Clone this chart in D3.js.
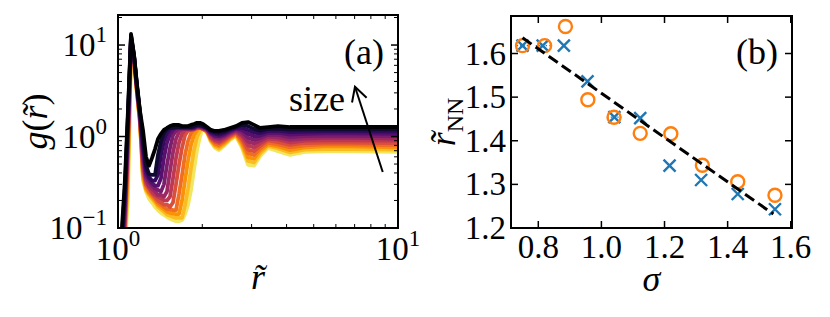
<!DOCTYPE html>
<html>
<head>
<meta charset="utf-8">
<script src="https://cdn.jsdelivr.net/npm/d3@7"></script>
<style>
  body { margin: 0; background: #fff; }
</style>
</head>
<body>
<svg id="chart" width="830" height="317" viewBox="0 0 830 317"></svg>
<script>
// ---- panel (a): g(r) for 12 sizes, darkest = largest ----
const rTilde = [1.000, 1.033, 1.059, 1.086, 1.113, 1.141, 1.169, 1.198, 1.228, 1.259,
  1.290, 1.322, 1.356, 1.389, 1.424, 1.459, 1.496, 1.534, 1.572, 1.611,
  1.651, 1.693, 1.735, 1.778, 1.823, 1.868, 1.915, 1.962, 2.011, 2.079,
  2.148, 2.220, 2.294, 2.391, 2.512, 2.639, 2.773, 2.913, 3.060, 3.215,
  3.433, 3.728, 4.114, 4.655, 5.487, 6.740, 10.0];

const gCurves = [
  [0.01, 0.10, 0.34, 2.0, 13.2, 7.8, 3.7, 1.9, 1.18, 0.60, 0.48, 0.58, 0.73, 0.94, 1.07, 1.18, 1.24, 1.30, 1.34, 1.34, 1.34, 1.30, 1.30, 1.30, 1.34, 1.37, 1.41, 1.41, 1.37, 1.27, 1.18, 1.15, 1.15, 1.18, 1.24, 1.30, 1.41, 1.44, 1.34, 1.24, 1.27, 1.30, 1.27, 1.27, 1.27, 1.27, 1.27],
  [0.01, 0.085, 0.28, 1.8, 12.8, 7.7, 3.6, 1.85, 0.94, 0.48, 0.39, 0.38, 0.38, 0.63, 0.89, 1.09, 1.21, 1.24, 1.24, 1.27, 1.27, 1.27, 1.27, 1.27, 1.27, 1.30, 1.34, 1.34, 1.30, 1.24, 1.15, 1.11, 1.10, 1.13, 1.21, 1.27, 1.34, 1.30, 1.21, 1.16, 1.21, 1.22, 1.19, 1.20, 1.20, 1.20, 1.20],
  [0.01, 0.07, 0.24, 1.6, 12.4, 7.6, 3.5, 1.8, 0.81, 0.43, 0.36, 0.33, 0.33, 0.38, 0.63, 0.89, 1.09, 1.21, 1.24, 1.25, 1.25, 1.25, 1.25, 1.25, 1.25, 1.27, 1.32, 1.32, 1.29, 1.24, 1.12, 1.07, 1.05, 1.09, 1.18, 1.24, 1.25, 1.18, 1.11, 1.09, 1.15, 1.16, 1.12, 1.13, 1.14, 1.14, 1.13],
  [0.01, 0.06, 0.20, 1.45, 12.0, 7.5, 3.45, 1.75, 0.71, 0.39, 0.34, 0.31, 0.29, 0.29, 0.35, 0.58, 0.85, 1.07, 1.19, 1.24, 1.24, 1.24, 1.24, 1.24, 1.24, 1.25, 1.30, 1.30, 1.27, 1.21, 1.09, 1.02, 1.01, 1.05, 1.14, 1.22, 1.18, 1.07, 1.01, 1.02, 1.10, 1.10, 1.05, 1.07, 1.08, 1.08, 1.07],
  [0.01, 0.05, 0.17, 1.3, 11.6, 7.35, 3.4, 1.7, 0.63, 0.36, 0.32, 0.29, 0.27, 0.26, 0.25, 0.30, 0.49, 0.75, 1.03, 1.16, 1.22, 1.22, 1.22, 1.22, 1.22, 1.24, 1.29, 1.29, 1.25, 1.21, 1.07, 0.99, 0.97, 1.02, 1.11, 1.19, 1.12, 0.97, 0.92, 0.96, 1.05, 1.04, 0.98, 1.01, 1.02, 1.02, 1.01],
  [0.01, 0.045, 0.15, 1.15, 11.2, 7.2, 3.3, 1.65, 0.55, 0.34, 0.29, 0.27, 0.25, 0.23, 0.23, 0.22, 0.25, 0.42, 0.67, 0.94, 1.12, 1.21, 1.21, 1.21, 1.21, 1.22, 1.27, 1.27, 1.24, 1.18, 1.04, 0.95, 0.93, 0.98, 1.08, 1.16, 1.05, 0.88, 0.84, 0.90, 1.00, 0.98, 0.92, 0.95, 0.97, 0.97, 0.95],
  [0.01, 0.04, 0.13, 1.0, 10.8, 7.1, 3.25, 1.6, 0.50, 0.32, 0.28, 0.25, 0.23, 0.22, 0.21, 0.20, 0.20, 0.22, 0.35, 0.58, 0.85, 1.07, 1.19, 1.19, 1.19, 1.21, 1.25, 1.25, 1.22, 1.18, 0.99, 0.91, 0.88, 0.95, 1.05, 1.13, 1.00, 0.80, 0.76, 0.84, 0.95, 0.93, 0.86, 0.90, 0.91, 0.91, 0.90],
  [0.01, 0.035, 0.11, 0.9, 10.4, 7.0, 3.2, 1.55, 0.45, 0.30, 0.27, 0.24, 0.22, 0.20, 0.19, 0.18, 0.18, 0.17, 0.19, 0.30, 0.49, 0.75, 1.03, 1.16, 1.18, 1.19, 1.24, 1.24, 1.21, 1.15, 0.96, 0.88, 0.85, 0.91, 1.02, 1.11, 0.94, 0.72, 0.69, 0.79, 0.91, 0.87, 0.81, 0.85, 0.86, 0.86, 0.85],
  [0.01, 0.03, 0.10, 0.7, 10.0, 6.85, 3.1, 1.5, 0.41, 0.29, 0.25, 0.23, 0.21, 0.19, 0.18, 0.17, 0.16, 0.16, 0.157, 0.157, 0.235, 0.38, 0.63, 0.89, 1.09, 1.21, 1.24, 1.24, 1.21, 1.15, 0.94, 0.84, 0.81, 0.88, 0.99, 1.08, 0.89, 0.655, 0.63, 0.74, 0.86, 0.82, 0.76, 0.80, 0.82, 0.82, 0.80],
  [0.01, 0.025, 0.085, 0.5, 9.6, 6.75, 3.05, 1.45, 0.38, 0.27, 0.24, 0.22, 0.20, 0.18, 0.17, 0.16, 0.15, 0.146, 0.144, 0.142, 0.142, 0.20, 0.33, 0.54, 0.81, 1.04, 1.18, 1.24, 1.22, 1.12, 0.92, 0.81, 0.78, 0.85, 0.97, 1.06, 0.84, 0.59, 0.575, 0.70, 0.82, 0.78, 0.71, 0.76, 0.78, 0.78, 0.76],
  [0.01, 0.02, 0.07, 0.35, 9.2, 6.6, 3.0, 1.4, 0.35, 0.26, 0.23, 0.21, 0.19, 0.17, 0.16, 0.15, 0.14, 0.136, 0.132, 0.129, 0.129, 0.129, 0.178, 0.27, 0.45, 0.71, 0.99, 1.15, 1.24, 1.12, 0.89, 0.78, 0.74, 0.82, 0.94, 1.035, 0.79, 0.54, 0.52, 0.65, 0.79, 0.74, 0.67, 0.72, 0.73, 0.73, 0.72],
  [0.01, 0.02, 0.06, 0.22, 8.8, 6.5, 2.9, 1.35, 0.33, 0.25, 0.21, 0.19, 0.17, 0.157, 0.146, 0.139, 0.132, 0.126, 0.122, 0.119, 0.119, 0.122, 0.142, 0.178, 0.26, 0.43, 0.71, 0.99, 1.27, 1.09, 0.87, 0.75, 0.71, 0.79, 0.92, 1.01, 0.75, 0.49, 0.48, 0.61, 0.75, 0.69, 0.63, 0.68, 0.69, 0.69, 0.68]
];

const gExpTicks = [-1, 0, 1];
const rExpTicks = [0, 1];

// ---- panel (b): nearest-neighbour distance vs sigma ----
const sigma = [0.750, 0.814, 0.881, 0.956, 1.041, 1.123, 1.216, 1.316, 1.432, 1.550];
const sigmaCircle = [0.750, 0.820, 0.886, 0.957, 1.040, 1.123, 1.220, 1.320, 1.432, 1.550];
const rNNcross = [1.618, 1.618, 1.618, 1.536, 1.454, 1.452, 1.343, 1.310, 1.278, 1.243];
const rNNcircle = [1.618, 1.618, 1.662, 1.494, 1.454, 1.417, 1.416, 1.344, 1.306, 1.275];
const crossErr = [0.018, 0.022, 0, 0, 0.022, 0, 0, 0, 0, 0];
const fitSigma = [0.750, 1.545];
const fitR = [1.636, 1.232];
const sigmaTicks = [0.8, 1.0, 1.2, 1.4, 1.6];
const rNNTicks = [1.2, 1.3, 1.4, 1.5, 1.6];

const svg = d3.select("#chart");
const serif = "Liberation Serif";
const tickFont = 33;
const labelFont = 36;

// ---------- helpers ----------
function frame(g, x0, x1, y0, y1) {
  g.append("rect")
    .attr("x", x0).attr("y", y0)
    .attr("width", x1 - x0).attr("height", y1 - y0)
    .attr("fill", "none").attr("stroke", "#000").attr("stroke-width", 2);
}

// inward ticks on both opposite sides
function ticks(g, scale, values, axis, lo, hi, len, width) {
  values.forEach((v) => {
    const p = scale(v);
    if (axis === "x") {
      g.append("line").attr("x1", p).attr("x2", p).attr("y1", hi).attr("y2", hi - len);
      g.append("line").attr("x1", p).attr("x2", p).attr("y1", lo).attr("y2", lo + len);
    } else {
      g.append("line").attr("y1", p).attr("y2", p).attr("x1", lo).attr("x2", lo + len);
      g.append("line").attr("y1", p).attr("y2", p).attr("x1", hi).attr("x2", hi - len);
    }
  });
  g.selectAll("line").attr("stroke", "#000").attr("stroke-width", width);
}

function powLabel(sel, exp) {
  sel.append("tspan").text("10");
  sel.append("tspan")
    .attr("dy", -14)
    .attr("font-size", 23)
    .text(exp < 0 ? "\u2212" + Math.abs(exp) : String(exp));
}

function txt(x, y, size, anchor) {
  return svg.append("text")
    .attr("x", x).attr("y", y)
    .attr("font-family", serif)
    .attr("font-size", size)
    .attr("text-anchor", anchor);
}

// ---------- panel (a) ----------
const A = { left: 118, right: 398, top: 15, bottom: 228 };
const xa = d3.scaleLog().domain([1, 10]).range([A.left, A.right]);
const ya = d3.scaleLog().domain([0.1, 21.3]).range([A.bottom, A.top]);

svg.append("clipPath").attr("id", "clipA")
  .append("rect")
  .attr("x", A.left).attr("y", A.top)
  .attr("width", A.right - A.left).attr("height", A.bottom - A.top);

const nCurves = gCurves.length;
const color = (k) => d3.interpolateInferno((k / (nCurves - 1)) * 0.93);

const line = d3.line()
  .x((d, i) => xa(rTilde[i]))
  .y((d) => ya(d));

const curveGroup = svg.append("g").attr("clip-path", "url(#clipA)");
curveGroup.selectAll("path")
  .data(gCurves.map((g, k) => ({ g, k })).reverse())
  .enter()
  .append("path")
  .attr("d", (d) => line(d.g))
  .attr("fill", "none")
  .attr("stroke", (d) => color(d.k))
  .attr("stroke-width", 3.8)
  .attr("stroke-linejoin", "round");

const gMinor = [];
[0.1, 1].forEach((dec) => { for (let m = 2; m <= 9; m++) gMinor.push(dec * m); });
gMinor.push(20);
const rMinor = d3.range(2, 10);

ticks(svg.append("g"), ya, gExpTicks.map((e) => Math.pow(10, e)), "y", A.left, A.right, 7, 1.5);
ticks(svg.append("g"), ya, gMinor, "y", A.left, A.right, 4, 1);
ticks(svg.append("g"), xa, rMinor, "x", A.top, A.bottom, 4, 1);
frame(svg.append("g"), A.left, A.right, A.top, A.bottom);

gExpTicks.forEach((e) => {
  powLabel(txt(107, ya(Math.pow(10, e)) + 11, tickFont, "end"), e);
});
rExpTicks.forEach((e) => {
  powLabel(txt(xa(Math.pow(10, e)), 260, tickFont, "middle"), e);
});

// axis labels
txt((A.left + A.right) / 2, 289, labelFont, "middle")
  .attr("font-style", "italic")
  .text("r\u0303");

const yLabA = txt(0, 0, labelFont, "middle")
  .attr("transform", "translate(47," + (A.top + A.bottom) / 2 + ") rotate(-90)");
yLabA.append("tspan").attr("font-style", "italic").text("g");
yLabA.append("tspan").text("(");
yLabA.append("tspan").attr("font-style", "italic").text("r\u0303");
yLabA.append("tspan").text(")");

txt(384, 64, labelFont, "end").text("(a)");

// "size" annotation with arrow
const arrowTail = [xa(8.82), ya(0.41)];
const arrowTip = [xa(7.02), ya(3.5)];
txt(xa(6.47), ya(1.9), labelFont, "end").text("size");
svg.append("line")
  .attr("x1", arrowTail[0]).attr("y1", arrowTail[1])
  .attr("x2", arrowTip[0]).attr("y2", arrowTip[1])
  .attr("stroke", "#000").attr("stroke-width", 2);
const ang = Math.atan2(arrowTail[1] - arrowTip[1], arrowTail[0] - arrowTip[0]);
const head = [ang - 0.5, ang + 0.5].map((a) => [arrowTip[0] + 16 * Math.cos(a), arrowTip[1] + 16 * Math.sin(a)]);
svg.append("path")
  .attr("d", `M${head[0][0]},${head[0][1]}L${arrowTip[0]},${arrowTip[1]}L${head[1][0]},${head[1][1]}`)
  .attr("fill", "none").attr("stroke", "#000").attr("stroke-width", 2);

// ---------- panel (b) ----------
const B = { left: 511, right: 792, top: 16, bottom: 228 };
const xb = d3.scaleLinear().domain([0.7135, 1.604]).range([B.left, B.right]);
const yb = d3.scaleLinear().domain([1.2, 1.686]).range([B.bottom, B.top]);

ticks(svg.append("g"), yb, rNNTicks, "y", B.left, B.right, 7, 1.5);
ticks(svg.append("g"), xb, sigmaTicks, "x", B.top, B.bottom, 7, 1.5);

const pts = svg.append("g");
// dotted error bars on the crosses
pts.selectAll(".err")
  .data(sigma.map((s, i) => ({ s, r: rNNcross[i], e: crossErr[i] })).filter((d) => d.e > 0))
  .enter()
  .append("line")
  .attr("x1", (d) => xb(d.s - d.e)).attr("x2", (d) => xb(d.s + d.e))
  .attr("y1", (d) => yb(d.r)).attr("y2", (d) => yb(d.r))
  .attr("stroke", "#1f77b4").attr("stroke-width", 1.3)
  .attr("stroke-dasharray", "1.3,2");

const cs = 6;
pts.selectAll(".cross")
  .data(sigma.map((s, i) => [xb(s), yb(rNNcross[i])]))
  .enter()
  .append("path")
  .attr("d", (d) => `M${d[0] - cs},${d[1] - cs}L${d[0] + cs},${d[1] + cs}M${d[0] - cs},${d[1] + cs}L${d[0] + cs},${d[1] - cs}`)
  .attr("stroke", "#1f77b4").attr("stroke-width", 2.4).attr("fill", "none");

pts.selectAll(".circ")
  .data(sigmaCircle.map((s, i) => [xb(s), yb(rNNcircle[i])]))
  .enter()
  .append("circle")
  .attr("cx", (d) => d[0]).attr("cy", (d) => d[1])
  .attr("r", 6.5)
  .attr("fill", "none").attr("stroke", "#ff7f0e").attr("stroke-width", 2.4);

svg.append("path")
  .attr("d", d3.line().x((d, i) => xb(fitSigma[i])).y((d) => yb(d))(fitR))
  .attr("fill", "none").attr("stroke", "#000")
  .attr("stroke-width", 3).attr("stroke-dasharray", "11,5");

frame(svg.append("g"), B.left, B.right, B.top, B.bottom);

rNNTicks.forEach((v) => {
  txt(506, yb(v) + 11, tickFont, "end").text(v.toFixed(1));
});
sigmaTicks.forEach((v) => {
  txt(xb(v), 258, tickFont, "middle").text(v.toFixed(1));
});

txt((B.left + B.right) / 2, 291, labelFont, "middle")
  .attr("font-style", "italic")
  .text("\u03c3");

const yLabB = txt(0, 0, labelFont, "middle")
  .attr("transform", "translate(455," + (B.top + B.bottom) / 2 + ") rotate(-90)");
yLabB.append("tspan").attr("font-style", "italic").text("r\u0303");
yLabB.append("tspan").attr("font-size", 24).attr("dy", 8).text("NN");

txt(778, 64, labelFont, "end").text("(b)");
</script>
</body>
</html>
